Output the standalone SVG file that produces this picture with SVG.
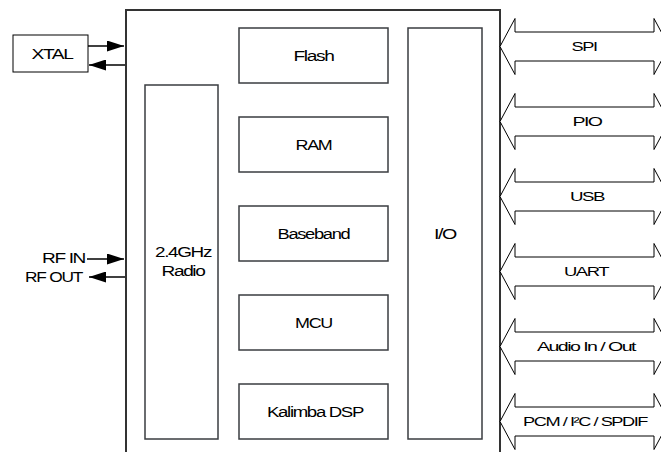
<svg xmlns="http://www.w3.org/2000/svg" width="661" height="452" viewBox="0 0 661 452">
  <style>
    text { font-family: "Liberation Sans", Arial, sans-serif; fill: #000; letter-spacing: -1px; }
    .lbl { font-size: 14px; text-anchor: middle; }
    .bus-lbl { font-size: 12.5px; text-anchor: middle; }
    .side { font-size: 14px; text-anchor: end; }
    .chip { fill: none; stroke: #333; stroke-width: 2; }
    .blk { fill: #fff; stroke: #3a3d40; stroke-width: 1.5; }
    .ext { fill: #fff; stroke: #000; stroke-width: 1; }
    .bus { fill: #fff; stroke: #000; stroke-width: 1; }
    .wire { stroke: #000; stroke-width: 1.5; fill: none; }
  </style>
  <defs>
    <marker id="head" markerUnits="userSpaceOnUse" markerWidth="18" markerHeight="11" refX="17" refY="5.5" orient="auto">
      <path d="M0,0 L17,5.5 L0,11 Z" fill="#000"/>
    </marker>
  </defs>

  <rect width="661" height="452" fill="#fff"/>

  <!-- chip outline, open at the bottom -->
  <g id="chip">
    <path class="chip" d="M126,452 V10 H500 V452"/>
  </g>

  <g id="xtal">
    <rect class="ext" x="13" y="35" width="75" height="37"/>
    <text class="lbl" x="52" y="59" textLength="41" lengthAdjust="spacingAndGlyphs">XTAL</text>
  </g>

  <g id="radio">
    <rect class="blk" x="145" y="85" width="73" height="354"/>
    <text class="lbl" x="183" y="257" textLength="56" lengthAdjust="spacingAndGlyphs">2.4GHz</text>
    <text class="lbl" x="183" y="276" textLength="43" lengthAdjust="spacingAndGlyphs">Radio</text>
  </g>

  <g id="flash">
    <rect class="blk" x="239" y="28" width="149" height="55"/>
    <text class="lbl" x="313.5" y="60.5" textLength="40" lengthAdjust="spacingAndGlyphs">Flash</text>
  </g>
  <g id="ram">
    <rect class="blk" x="239" y="117" width="149" height="55"/>
    <text class="lbl" x="313.5" y="149.5" textLength="36" lengthAdjust="spacingAndGlyphs">RAM</text>
  </g>
  <g id="baseband">
    <rect class="blk" x="239" y="206" width="149" height="55"/>
    <text class="lbl" x="313.5" y="238.5" textLength="72" lengthAdjust="spacingAndGlyphs">Baseband</text>
  </g>
  <g id="mcu">
    <rect class="blk" x="239" y="295" width="149" height="55"/>
    <text class="lbl" x="313.5" y="327.5" textLength="37" lengthAdjust="spacingAndGlyphs">MCU</text>
  </g>
  <g id="dsp">
    <rect class="blk" x="239" y="384" width="149" height="55"/>
    <text class="lbl" x="315" y="416.5" textLength="96" lengthAdjust="spacingAndGlyphs">Kalimba DSP</text>
  </g>

  <g id="io">
    <rect class="blk" x="408" y="28" width="74" height="411"/>
    <text class="lbl" x="445" y="238.5" textLength="22" lengthAdjust="spacingAndGlyphs">I/O</text>
  </g>

  <g id="rf-labels">
    <text class="side" x="85" y="263" textLength="43" lengthAdjust="spacingAndGlyphs">RF IN</text>
    <text class="side" x="82" y="281.5" textLength="57" lengthAdjust="spacingAndGlyphs">RF OUT</text>
  </g>

  <!-- double-ended hollow bus arrows on the right edge -->
  <g id="buses">
    <g id="bus-spi">
      <polygon class="bus" points="500,46.5 515,18.5 515,32 654,32 654,18.5 669,46.5 654,74.5 654,61 515,61 515,74.5"/>
      <text class="bus-lbl" x="584" y="51" textLength="25" lengthAdjust="spacingAndGlyphs">SPI</text>
    </g>
    <g id="bus-pio">
      <polygon class="bus" points="500,121.5 515,93.5 515,107 654,107 654,93.5 669,121.5 654,149.5 654,136 515,136 515,149.5"/>
      <text class="bus-lbl" x="587" y="126" textLength="29" lengthAdjust="spacingAndGlyphs">PIO</text>
    </g>
    <g id="bus-usb">
      <polygon class="bus" points="500,196.5 515,168.5 515,182 654,182 654,168.5 669,196.5 654,224.5 654,211 515,211 515,224.5"/>
      <text class="bus-lbl" x="587" y="201" textLength="34" lengthAdjust="spacingAndGlyphs">USB</text>
    </g>
    <g id="bus-uart">
      <polygon class="bus" points="500,271.5 515,243.5 515,257 654,257 654,243.5 669,271.5 654,299.5 654,286 515,286 515,299.5"/>
      <text class="bus-lbl" x="586" y="276" textLength="44" lengthAdjust="spacingAndGlyphs">UART</text>
    </g>
    <g id="bus-audio">
      <polygon class="bus" points="500,346.5 515,318.5 515,332 654,332 654,318.5 669,346.5 654,374.5 654,361 515,361 515,374.5"/>
      <text class="bus-lbl" x="586" y="351" textLength="98" lengthAdjust="spacingAndGlyphs">Audio In / Out</text>
    </g>
    <g id="bus-pcm">
      <polygon class="bus" points="500,421.5 515,393.5 515,407 654,407 654,393.5 669,421.5 654,449.5 654,436 515,436 515,449.5"/>
      <text class="bus-lbl" x="585" y="426" textLength="124" lengthAdjust="spacingAndGlyphs">PCM / I²C / SPDIF</text>
    </g>
  </g>

  <g id="connectors">
    <line class="wire" x1="88" y1="46" x2="124" y2="46" marker-end="url(#head)"/>
    <line class="wire" x1="125" y1="65" x2="89" y2="65" marker-end="url(#head)"/>
    <line class="wire" x1="87" y1="259" x2="124" y2="259" marker-end="url(#head)"/>
    <line class="wire" x1="125" y1="277" x2="89" y2="277" marker-end="url(#head)"/>
  </g>
</svg>
